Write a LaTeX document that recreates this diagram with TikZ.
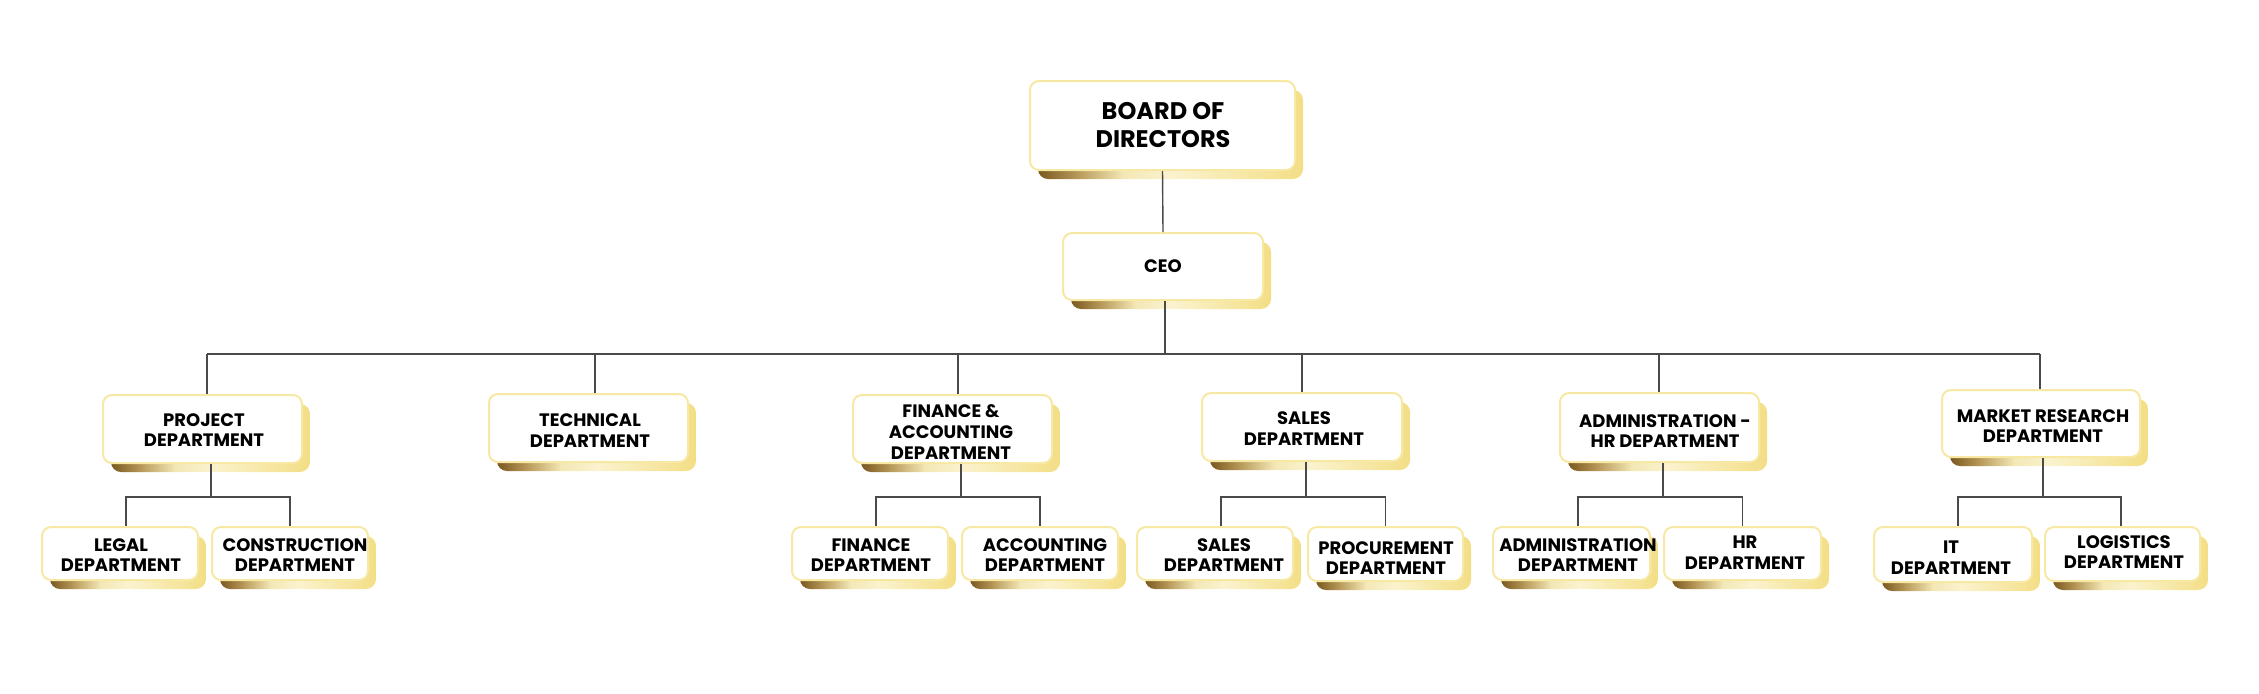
\documentclass[tikz,border=0pt]{standalone}
\usepackage{fontspec}
\setmainfont{Poppins}
\usetikzlibrary{fit}
\definecolor{g1}{HTML}{7A5820}
\definecolor{g2}{HTML}{B89A5A}
\definecolor{g3}{HTML}{F3E7B5}
\definecolor{g4}{HTML}{FBF3CF}
\definecolor{g5}{HTML}{F3DE85}
\definecolor{boxborder}{HTML}{F7E8A4}
\definecolor{connc}{HTML}{4A4A4A}
\tikzset{
  boxnode/.style={draw=boxborder, fill=white, line width=1pt, rounded corners=4.5pt, inner sep=0pt},
  dtxt/.style={font=\bfseries\fontsize{9}{10.35}\selectfont, align=center, inner sep=0pt, text=black},
  btxt/.style={font=\bfseries\fontsize{12}{14}\selectfont, align=center, inner sep=0pt, text=black},
  conn/.style={draw=connc, line width=0.7pt}
}
\newcommand{\orgbox}[9]{%
  \pgfmathsetmacro{\sxa}{#2+8}%
  \pgfmathsetmacro{\sxe}{#4+8}%
  \pgfmathsetmacro{\sw}{#4-#2}%
  \pgfmathsetmacro{\sxb}{\sxa+0.15*\sw}%
  \pgfmathsetmacro{\sxc}{\sxa+0.32*\sw}%
  \pgfmathsetmacro{\sxd}{\sxa+0.50*\sw}%
  \begin{scope}
    \clip[rounded corners=5pt] (\sxa,#3+9) rectangle (\sxe,#5+9);
    \shade[left color=g1, right color=g2] (\sxa,#3+9) rectangle (\sxb+0.6,#5+9);
    \shade[left color=g2, right color=g3] (\sxb,#3+9) rectangle (\sxc+0.6,#5+9);
    \shade[left color=g3, right color=g4] (\sxc,#3+9) rectangle (\sxd+0.6,#5+9);
    \shade[left color=g4, right color=g5] (\sxd,#3+9) rectangle (\sxe,#5+9);
  \end{scope}
  \node[boxnode, fit={(#2,#3) (#4,#5)}] (#1) {};
  \node[#8] (#1-t) at (#6,#7) {#9};
}
\begin{document}
\begin{tikzpicture}[x=0.5pt,y=-0.5pt]
\useasboundingbox (0,0) rectangle (2259,693);
\coordinate (busL) at (207,354);
\coordinate (busR) at (2040,354);
\coordinate (bC) at (1165,354);
\coordinate (bT) at (595,354);
\coordinate (bF) at (958,354);
\coordinate (bS) at (1302,354);
\coordinate (bA) at (1659,354);
\coordinate (pjJ) at (211,497);
\coordinate (fiJ) at (961,497);
\coordinate (saJ) at (1306,497);
\coordinate (adJ) at (1663,497);
\coordinate (mrJ) at (2043,497);

% boxes
\orgbox{board}{1030}{81}{1295}{170}{1163}{125.5}{btxt}{BOARD OF\\DIRECTORS}
\orgbox{ceo}{1063}{233}{1263}{300}{1163}{266}{dtxt}{CEO}
\orgbox{proj}{103}{395}{302}{463}{204}{430}{dtxt}{PROJECT\\DEPARTMENT}
\orgbox{tech}{489}{394}{688}{462}{590}{430.5}{dtxt}{TECHNICAL\\DEPARTMENT}
\orgbox{finacc}{853}{395}{1052}{463}{951}{432}{dtxt}{FINANCE \&\\ACCOUNTING\\DEPARTMENT}
\orgbox{sales}{1202}{393}{1402}{461}{1304}{428.5}{dtxt}{SALES\\DEPARTMENT}
\orgbox{adminhr}{1560}{393}{1759}{462}{1665}{431}{dtxt}{ADMINISTRATION -\\HR DEPARTMENT}
\orgbox{market}{1942}{390}{2140}{457}{2043}{426}{dtxt}{MARKET RESEARCH\\DEPARTMENT}
\orgbox{legal}{42}{527}{198}{580}{121}{555}{dtxt}{LEGAL\\DEPARTMENT}
\orgbox{constr}{212}{527}{368}{580}{295}{555}{dtxt}{CONSTRUCTION\\DEPARTMENT}
\orgbox{fin}{792}{527}{948}{580}{871}{555}{dtxt}{FINANCE\\DEPARTMENT}
\orgbox{acc}{962}{527}{1118}{580}{1045}{555}{dtxt}{ACCOUNTING\\DEPARTMENT}
\orgbox{sales2}{1137}{527}{1293}{580}{1224}{555}{dtxt}{SALES\\DEPARTMENT}
\orgbox{proc}{1308}{527}{1463}{581}{1386}{558}{dtxt}{PROCUREMENT\\DEPARTMENT}
\orgbox{admin}{1493}{527}{1650}{580}{1578}{555}{dtxt}{ADMINISTRATION\\DEPARTMENT}
\orgbox{hr}{1664}{527}{1821}{580}{1745}{553}{dtxt}{HR\\DEPARTMENT}
\orgbox{it}{1874}{527}{2032}{582}{1951}{558}{dtxt}{IT\\DEPARTMENT}
\orgbox{logi}{2045}{527}{2200}{581}{2124}{552}{dtxt}{LOGISTICS\\DEPARTMENT}

% level connectors
\draw[conn] (board.south) -- (ceo.north);
\draw[conn] (bC |- ceo.south) -- (bC);
\draw[conn] (busL) -- (busR);
\draw[conn] (busL) -- (busL |- proj.north);
\draw[conn] (bT) -- (bT |- tech.north);
\draw[conn] (bF) -- (bF |- finacc.north);
\draw[conn] (bS) -- (bS |- sales.north);
\draw[conn] (bA) -- (bA |- adminhr.north);
\draw[conn] (busR) -- (busR |- market.north);
% sub connectors
\draw[conn] (pjJ |- proj.south) -- (pjJ);
\draw[conn] ([xshift=3pt]legal.north) |- (pjJ) -| (constr.north);
\draw[conn] (fiJ |- finacc.south) -- (fiJ);
\draw[conn] ([xshift=3pt]fin.north) |- (fiJ) -| (acc.north);
\draw[conn] (saJ |- sales.south) -- (saJ);
\draw[conn] ([xshift=3pt]sales2.north) |- (saJ) -| (proc.north);
\draw[conn] (adJ |- adminhr.south) -- (adJ);
\draw[conn] ([xshift=3.25pt]admin.north) |- (adJ) -| (hr.north);
\draw[conn] (mrJ |- market.south) -- (mrJ);
\draw[conn] ([xshift=2.5pt]it.north) |- (mrJ) -| ([xshift=-0.75pt]logi.north);
\end{tikzpicture}
\end{document}
